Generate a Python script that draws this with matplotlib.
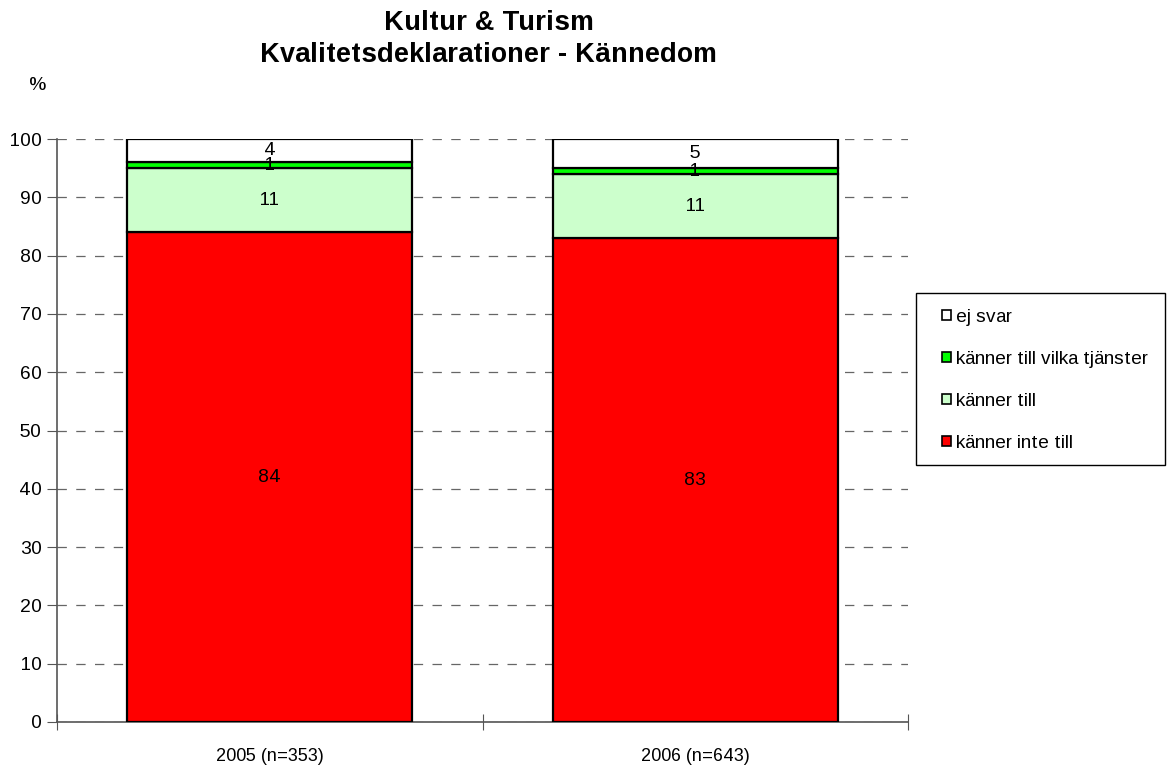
import matplotlib.pyplot as plt
from matplotlib.patches import Patch, Rectangle
import numpy as np

plt.rcParams['font.family'] = ['Liberation Sans', 'DejaVu Sans']
plt.rcParams['text.hinting_factor'] = 1

categories = ['2005 (n=353)', '2006 (n=643)']
series = ['känner inte till', 'känner till', 'känner till vilka tjänster', 'ej svar']
values = [
    [84, 83],   # känner inte till
    [11, 11],   # känner till
    [1, 1],     # känner till vilka tjänster
    [4, 5],     # ej svar
]
colors = ['#FF0000', '#CCFFCC', '#00FF00', '#FFFFFF']

fig = plt.figure(figsize=(11.75, 7.65), dpi=100)
ax = fig.add_axes([57 / 1175, 1 - 722 / 765, 851 / 1175, 583 / 765])

x = np.arange(len(categories)) + 0.5
bottom = np.zeros(len(categories))
for name, vals, c in zip(series, values, colors):
    bars = ax.bar(x, vals, 0.67, bottom=bottom, color=c, edgecolor='black',
                  linewidth=1.6, label=name, zorder=3)
    ax.bar_label(bars, labels=[str(v) for v in vals], label_type='center',
                 fontsize=13.5, zorder=4)
    bottom += np.array(vals)

ax.set_xlim(0, 2)
ax.set_ylim(0, 100)
ax.set_yticks(range(0, 101, 10))
ax.yaxis.grid(True, linestyle=(0, (7.5, 7.5)), color='#666666', linewidth=0.9, zorder=0)
ax.set_axisbelow(True)

ax.set_xticks([0, 1, 2])
ax.set_xticklabels([])
ax.set_xticks(x, minor=True)
ax.set_xticklabels(categories, minor=True, fontsize=13)
ax.tick_params(axis='x', which='minor', length=0, pad=19)
ax.tick_params(axis='x', which='major', direction='inout', length=12, color='#555555')
ax.tick_params(axis='y', length=7, color='#555555', labelsize=13.5, pad=4)

for s in ['top', 'right']:
    ax.spines[s].set_visible(False)
for s in ['left', 'bottom']:
    ax.spines[s].set_color('#555555')
    ax.spines[s].set_linewidth(1.2)

fig.text(489 / 1175, 1 - 30 / 765, 'Kultur & Turism', ha='center', va='baseline',
         fontsize=19.7, fontweight='bold')
fig.text(489 / 1175, 1 - 62 / 765, 'Kvalitetsdeklarationer - Kännedom', ha='center',
         va='baseline', fontsize=19.7, fontweight='bold')
fig.text(37.5 / 1175, 1 - 90 / 765, '%', ha='center', va='baseline', fontsize=13.5)

# legend frame
fig.patches.append(Rectangle((916 / 1175, 1 - 465 / 765), 249 / 1175, 172 / 765,
                             transform=fig.transFigure, facecolor='white',
                             edgecolor='black', linewidth=1.0, zorder=1))

handles = [Patch(facecolor=c, edgecolor='black', linewidth=1.2, label=n)
           for n, c in zip(series, colors)][::-1]
leg = fig.legend(handles=handles, loc='upper left',
                 bbox_to_anchor=(942 / 1175, 1 - 309 / 765),
                 fontsize=13.9, frameon=False,
                 handlelength=0.45, handleheight=0.45, handletextpad=0.25,
                 labelspacing=1.29, borderpad=0, borderaxespad=0)

fig.savefig('out.png', dpi=100)
